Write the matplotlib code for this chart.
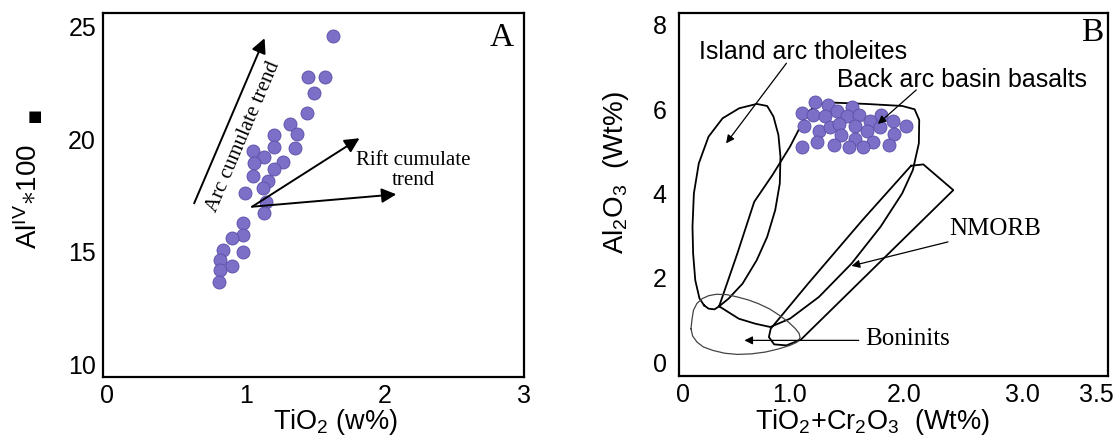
import numpy as np
import matplotlib
matplotlib.use("Agg")
import matplotlib.pyplot as plt

plt.rcParams['font.family'] = ['Liberation Sans', 'DejaVu Sans']
plt.rcParams['mathtext.fontset'] = 'custom'
plt.rcParams['mathtext.rm'] = 'Liberation Sans'
plt.rcParams['mathtext.it'] = 'Liberation Sans:italic'
plt.rcParams['mathtext.bf'] = 'Liberation Sans:bold'
plt.rcParams['mathtext.sf'] = 'Liberation Sans'

# ---------------- Panel A data ----------------
tio2_a = [1.622, 1.447, 1.566, 1.486, 1.437, 1.319, 1.365, 1.198, 1.355, 1.198,
          1.046, 1.128, 1.056, 1.262, 1.198, 1.046, 1.154, 1.123, 0.989, 1.143,
          1.128, 0.979, 0.979, 0.901, 0.834, 0.979, 0.809, 0.809, 0.901, 0.803]
aliv_a = [24.59, 22.75, 22.75, 22.04, 21.15, 20.67, 20.21, 20.20, 19.62, 19.67,
          19.47, 19.19, 18.93, 19.00, 18.66, 18.38, 18.14, 17.81, 17.62, 17.22,
          16.73, 16.29, 15.74, 15.59, 15.07, 15.00, 14.63, 14.21, 14.36, 13.67]
a_xticks = [0, 1, 2, 3]
a_yticks = [10, 15, 20, 25]

# ---------------- Panel B data ----------------
tio2cr_b = [1.222, 1.336, 1.415, 1.546, 1.103, 1.199, 1.307, 1.497, 1.608, 1.702,
            1.798, 1.901, 1.123, 1.254, 1.351, 1.432, 1.570, 1.673, 1.789, 2.017,
            1.445, 1.912, 1.234, 1.386, 1.570, 1.731, 1.105, 1.520, 1.643, 1.871]
al2o3_b = [6.16, 6.10, 5.95, 6.05, 5.91, 5.87, 5.83, 5.84, 5.87, 5.73,
           5.87, 5.73, 5.61, 5.49, 5.57, 5.65, 5.61, 5.47, 5.57, 5.61,
           5.39, 5.42, 5.23, 5.15, 5.29, 5.23, 5.11, 5.10, 5.11, 5.15]
b_xticks = [0, 1, 2, 3, 3.5]
b_xticklabels = ["0", "1.0", "2.0", "3.0", "3.5"]
b_yticks = [0, 2, 4, 6, 8]

# field outlines (TiO2+Cr2O3, Al2O3)
iat_x = [0.197, 0.154, 0.115, 0.095, 0.089, 0.102, 0.148, 0.239, 0.370, 0.525, 0.689,
         0.787, 0.846, 0.892, 0.911, 0.905, 0.862, 0.787, 0.689, 0.557, 0.426, 0.338,
         0.295, 0.239]
iat_y = [1.347, 1.513, 1.941, 2.574, 3.208, 4.000, 4.713, 5.347, 5.782, 6.020, 6.123,
         6.075, 5.822, 5.386, 4.871, 4.238, 3.604, 2.970, 2.416, 1.861, 1.505, 1.323,
         1.251, 1.267]
babb_x = [0.338, 0.508, 0.666, 0.836, 1.000, 1.159, 1.254, 1.381, 1.667, 1.984, 2.090,
          2.129, 2.126, 2.075, 1.984, 1.794, 1.540, 1.254, 1.000, 0.816, 0.675, 0.521]
babb_y = [1.323, 2.574, 3.802, 4.436, 5.109, 5.941, 6.123, 6.154, 6.123, 6.075, 5.996,
          5.743, 5.188, 4.554, 4.000, 3.208, 2.337, 1.545, 1.030, 0.832, 0.911, 1.030]
nmorb_x = [2.060, 2.164, 2.418, 1.095, 0.967, 0.852, 0.803, 0.820, 1.159, 1.635]
nmorb_y = [4.657, 4.689, 4.079, 0.531, 0.396, 0.420, 0.594, 0.792, 1.861, 3.366]
bon_x = [0.075, 0.085, 0.098, 0.130, 0.180, 0.240, 0.311, 0.410, 0.508, 0.610, 0.705,
         0.810, 0.902, 0.985, 1.048, 1.080, 1.089, 1.060, 1.000, 0.890, 0.770, 0.640,
         0.508, 0.390, 0.279, 0.190, 0.131, 0.090]
bon_y = [0.792, 1.020, 1.228, 1.390, 1.505, 1.575, 1.608, 1.600, 1.545, 1.475, 1.386,
         1.260, 1.109, 0.950, 0.792, 0.680, 0.578, 0.470, 0.396, 0.310, 0.238, 0.195,
         0.182, 0.210, 0.277, 0.360, 0.475, 0.620]

PURPLE = '#7B6FC8'
EDGE = '#5A4EA6'
SERIF = ['Liberation Serif', 'DejaVu Serif']

fig = plt.figure(figsize=(11.18, 4.36), dpi=100)
axA = fig.add_axes([103/1118, 1 - 377/436, 421/1118, 364/436])
axB = fig.add_axes([679/1118, 1 - 376/436, 429/1118, 363/436])

for ax in (axA, axB):
    for s in ax.spines.values():
        s.set_linewidth(1.6)
    ax.tick_params(length=0, labelsize=18, pad=5)

# ---------------- Panel A ----------------
axA.scatter(tio2_a, aliv_a, s=88, c=PURPLE, edgecolors=EDGE, linewidths=0.6, zorder=3)
axA.set_xlim(-0.03, 3.0)
axA.set_ylim(9.44, 25.6)
axA.set_xticks(a_xticks)
axA.set_yticks(a_yticks)
axA.set_xlabel(r"TiO$_2$ (w%)", fontsize=19.5)
axA.xaxis.label.set_va('baseline')
axA.xaxis.set_label_coords(0.553, -0.142)
axA.text(-0.176, 0.496, r"Al$^{\mathrm{IV}}$$\ast$100", transform=axA.transAxes,
         rotation=90, ha='center', va='center', fontsize=20)
axA.text(-0.1615, 0.715, "\u25A0", transform=axA.transAxes, ha='center', va='center',
         fontsize=11, family=['DejaVu Sans'])
axA.text(2.842, 24.51, "A", fontsize=24, family=SERIF, ha='center', va='center')

arrow_big = dict(arrowstyle='-|>', color='k', lw=1.4, mutation_scale=22, shrinkA=0, shrinkB=0)
axA.annotate("", xy=(1.133, 24.48), xytext=(0.626, 17.15), arrowprops=arrow_big)
axA.annotate("", xy=(1.816, 20.04), xytext=(1.043, 17.0), arrowprops=arrow_big)
axA.annotate("", xy=(2.081, 17.55), xytext=(1.043, 17.0), arrowprops=arrow_big)
axA.text(0.984, 20.11, "Arc cumulate trend", rotation=67, rotation_mode='anchor',
         ha='center', va='center', fontsize=15, family=SERIF)
axA.text(2.205, 18.6, "Rift cumulate\ntrend", ha='center', va='center', fontsize=15,
         family=SERIF, linespacing=1.05)

# ---------------- Panel B ----------------
tick_px = [0, 107, 221, 339, 413]
ext_vals = [-1.0] + list(b_xticks) + [4.5]
ext_px = [-107.0] + tick_px + [561.0]


def fwd(x):
    return np.interp(x, ext_vals, ext_px)


def inv(p):
    return np.interp(p, ext_px, ext_vals)


axB.set_xscale('function', functions=(fwd, inv))
axB.set_xlim(-0.037, 3.581)
axB.set_ylim(-0.33, 8.28)
axB.set_xticks(b_xticks)
axB.set_xticklabels(b_xticklabels)
axB.set_xticks([], minor=True)
axB.set_yticks(b_yticks)
axB.tick_params(axis='y', pad=9)

for xs, ys, col, lw in ((iat_x, iat_y, 'k', 1.3), (babb_x, babb_y, 'k', 1.3),
                        (nmorb_x, nmorb_y, 'k', 1.3), (bon_x, bon_y, '#444444', 0.9)):
    axB.plot(list(xs) + [xs[0]], list(ys) + [ys[0]], color=col, lw=lw, zorder=2,
             solid_joinstyle='round')

axB.scatter(tio2cr_b, al2o3_b, s=88, c=PURPLE, edgecolors=EDGE, linewidths=0.6, zorder=3)

axB.set_xlabel(r"TiO$_2$+Cr$_2$O$_3$  (Wt%)", fontsize=19.5)
axB.xaxis.label.set_va('baseline')
axB.xaxis.set_label_coords(0.451, -0.145)
axB.set_ylabel(r"Al$_2$O$_3$  (Wt%)", fontsize=20)
axB.yaxis.label.set_va('center')
axB.yaxis.set_label_coords(-0.147, 0.559)

axB.text(3.475, 7.8, "B", fontsize=24, family=SERIF, ha='center', va='center')

arrow_small = dict(arrowstyle='-|>', color='k', lw=0.9, mutation_scale=12, shrinkA=0, shrinkB=0)
axB.text(1.111, 7.366, "Island arc tholeites", fontsize=18, ha='center', va='center')
axB.annotate("", xy=(0.403, 5.188), xytext=(0.967, 7.089), arrowprops=arrow_small)
axB.text(2.493, 6.693, "Back arc basin basalts", fontsize=18, ha='center', va='center')
axB.annotate("", xy=(1.771, 5.648), xytext=(2.104, 6.455), arrowprops=arrow_small, zorder=4)
axB.text(2.776, 3.145, "NMORB", fontsize=18, family=SERIF, ha='center', va='center')
axB.annotate("", xy=(1.540, 2.281), xytext=(2.373, 2.851), arrowprops=arrow_small)
axB.text(2.030, 0.554, "Boninits", fontsize=18, family=SERIF, ha='center', va='center')
axB.annotate("", xy=(0.574, 0.515), xytext=(1.603, 0.515), arrowprops=arrow_small)

fig.savefig("out.png", dpi=100)
